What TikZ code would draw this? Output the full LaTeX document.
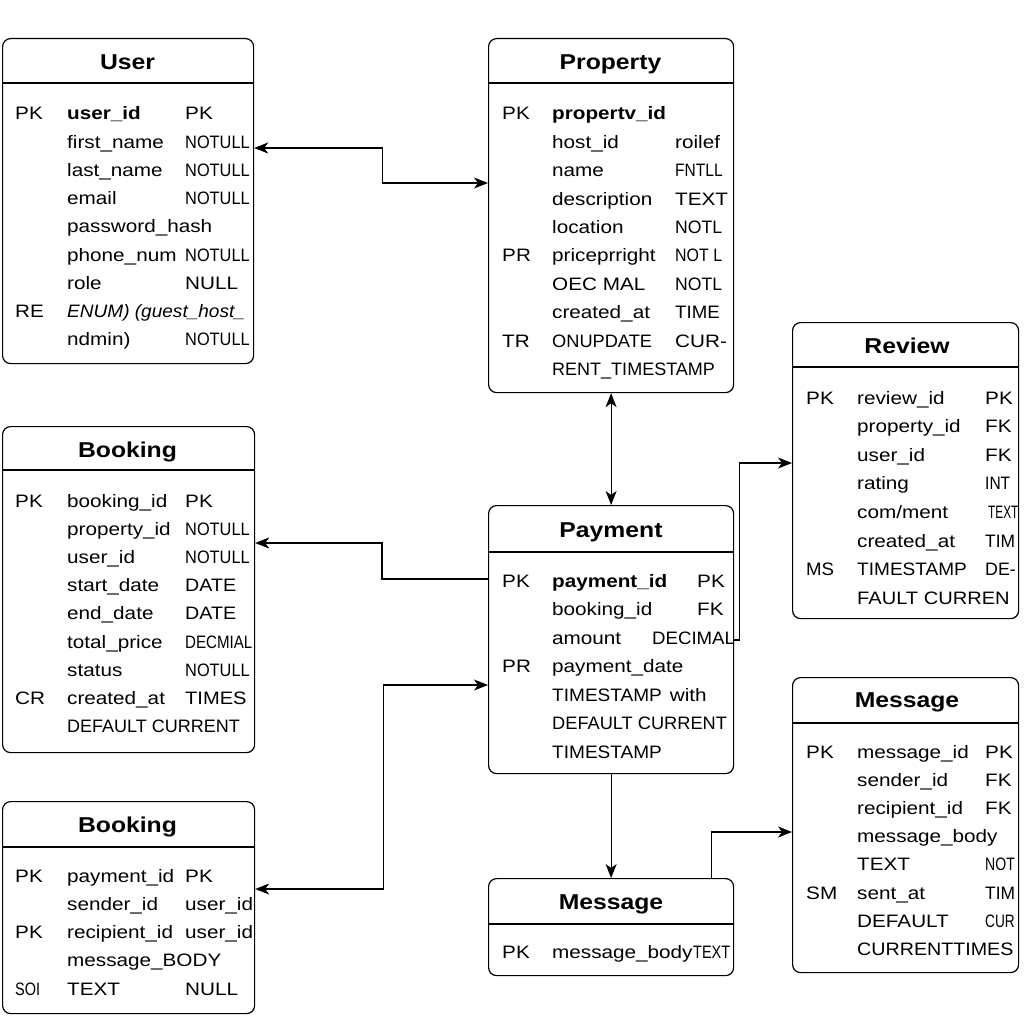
\documentclass[tikz,border=0pt]{standalone}
\usepackage{fontspec}
\setmainfont{Liberation Sans}[FakeStretch=1.15]
\usepackage{graphicx}
\usetikzlibrary{arrows.meta,calc}
\newcommand\sq[2]{\scalebox{#1}[1]{#2}}
\tikzset{
  tbox/.style={draw, line width=1.2pt, rounded corners=8pt, rectangle, inner sep=0pt, anchor=north west},
  ttl/.style={font=\fontsize{21.5}{24}\selectfont\bfseries, anchor=base, inner sep=0pt},
  txt/.style={font=\fontsize{18}{20}\selectfont, anchor=base west, inner sep=0pt},
  dv/.style={line width=1.2pt},
  tip/.tip={Stealth[length=14pt,width=11pt,inset=4pt]},
  conn/.style={line width=1.1pt, -tip},
  conn2/.style={line width=1.1pt, tip-tip},
}
\newcommand\rows[7]{%
  \foreach[count=\i] \k/\n/\t in {#7} {
    \node[txt] (#1k\i) at (#2, {#5+#6*(\i-1)}) {\k};
    \node[txt] (#1n\i) at (#3, {#5+#6*(\i-1)}) {\n};
    \node[txt] (#1t\i) at (#4, {#5+#6*(\i-1)}) {\t};
  }}
\begin{document}
\begin{tikzpicture}[x=1pt,y=-1pt]
\useasboundingbox[fill=white] (0,0) rectangle (1024,1024);

% ---------- boxes ----------
\node[tbox, minimum width=251pt, minimum height=325pt] (user) at (2,38) {};
\node[tbox, minimum width=245pt, minimum height=354pt] (prop) at (488,38) {};
\node[tbox, minimum width=226pt, minimum height=296pt] (rev) at (792,322) {};
\node[tbox, minimum width=252pt, minimum height=326pt] (book1) at (2,426) {};
\node[tbox, minimum width=245pt, minimum height=268pt] (pay) at (488,505) {};
\node[tbox, minimum width=252pt, minimum height=212pt] (book2) at (2,801) {};
\node[tbox, minimum width=245pt, minimum height=97pt] (msg) at (488,878) {};
\node[tbox, minimum width=226pt, minimum height=295pt] (msgr) at (792,677) {};

% ---------- dividers ----------
\draw[dv] ([yshift=-45pt]user.north west) -- ([yshift=-45pt]user.north east);
\draw[dv] ([yshift=-45pt]prop.north west) -- ([yshift=-45pt]prop.north east);
\draw[dv] ([yshift=-45pt]rev.north west) -- ([yshift=-45pt]rev.north east);
\draw[dv] ([yshift=-44pt]book1.north west) -- ([yshift=-44pt]book1.north east);
\draw[dv] ([yshift=-47pt]pay.north west) -- ([yshift=-47pt]pay.north east);
\draw[dv] ([yshift=-46pt]book2.north west) -- ([yshift=-46pt]book2.north east);
\draw[dv] ([yshift=-46pt]msg.north west) -- ([yshift=-46pt]msg.north east);
\draw[dv] ([yshift=-46pt]msgr.north west) -- ([yshift=-46pt]msgr.north east);

% ---------- titles ----------
\node[ttl] (user-title) at (127.5,70) {User};
\node[ttl] (prop-title) at (610.5,70) {Property};
\node[ttl] (rev-title) at (907,353) {Review};
\node[ttl] (book1-title) at (127.5,457) {Booking};
\node[ttl] (pay-title) at (611,537) {Payment};
\node[ttl] (book2-title) at (127.5,832) {Booking};
\node[ttl] (msg-title) at (611,909) {Message};
\node[ttl] (msgr-title) at (907,707) {Message};

% ---------- User ----------
\rows{u}{15}{67}{185}{120}{28.2}{
  PK/{\bfseries user\_id}/PK,
  /first\_name/\sq{.79}{NOTULL},
  /last\_name/\sq{.79}{NOTULL},
  /email/\sq{.79}{NOTULL},
  /password\_hash/,
  /phone\_num/\sq{.79}{NOTULL},
  /role/NULL,
  RE/{\itshape\sq{.92}{ENUM) (guest\_host\_}}/,
  /ndmin)/\sq{.79}{NOTULL}}

% ---------- Property ----------
\rows{p}{502}{552}{675}{120}{28.4}{
  PK/{\bfseries propertv\_id}/,
  /host\_id/roilef,
  /name/\sq{.75}{FNTLL},
  /description/TEXT,
  /location/\sq{.85}{NOTL},
  PR/priceprright/\sq{.77}{NOT L},
  /OEC MAL/\sq{.85}{NOTL},
  /created\_at/\sq{.9}{TIME},
  TR/\sq{.88}{ONUPDATE}/CUR-,
  /\sq{.87}{RENT\_TIMESTAMP}/}

% ---------- Review ----------
\rows{r}{806}{857}{985}{404}{28.6}{
  PK/review\_id/PK,
  /property\_id/FK,
  /user\_id/FK,
  /rating/\sq{.75}{INT},
  /{com/ment}/\hspace{3pt}\sq{.57}{TEXT},
  /created\_at/\sq{.84}{TIM},
  \sq{.9}{MS}/\sq{.92}{TIMESTAMP}/\sq{.86}{DE-},
  /\sq{.97}{FAULT CURREN}/}

% ---------- Booking (upper) ----------
\rows{b}{15}{67}{185}{507}{28.2}{
  PK/booking\_id/PK,
  /property\_id/\sq{.79}{NOTULL},
  /user\_id/\sq{.79}{NOTULL},
  /start\_date/\sq{.95}{DATE},
  /end\_date/\sq{.95}{DATE},
  /total\_price/\sq{.73}{DECMIAL},
  /status/\sq{.79}{NOTULL},
  CR/created\_at/\sq{.97}{TIMES},
  /\sq{.87}{DEFAULT CURRENT}/}

% ---------- Payment ----------
\rows{y}{502}{552}{652}{587}{28.5}{
  PK/{\bfseries payment\_id}/\hspace{45pt}PK,
  /booking\_id/\hspace{45pt}FK,
  /amount/\sq{.9}{DECIMAL},
  PR/payment\_date/,
  /\sq{.92}{TIMESTAMP}\hspace{8pt}with/,
  /\sq{.88}{DEFAULT CURRENT}/,
  /\sq{.92}{TIMESTAMP}/}

% ---------- Booking (lower) ----------
\rows{c}{15}{67}{185}{882}{28.3}{
  PK/payment\_id/PK,
  /sender\_id/user\_id,
  PK/recipient\_id/user\_id,
  /message\_BODY/,
  \sq{.7}{SOI}/TEXT/NULL}

% ---------- Message (small) ----------
\node[txt] (m-k1) at (502,958) {PK};
\node[txt] (m-n1) at (552,958) {message\_body};
\node[txt] (m-t1) at (693,958) {\sq{.7}{TEXT}};

% ---------- Message (right) ----------
\rows{s}{806}{857}{985}{758}{28.2}{
  PK/message\_id/PK,
  /sender\_id/FK,
  /recipient\_id/FK,
  /message\_body/,
  /TEXT/\sq{.68}{NOT},
  SM/sent\_at/\sq{.84}{TIM},
  /DEFAULT/\sq{.66}{CUR},
  /\sq{.95}{CURRENTTIMES}/}

% ---------- connectors ----------
\draw[conn2] ([yshift=-110pt]user.north east) -- ++(128,0) |- ([yshift=-145pt]prop.north west);
\draw[conn2] (prop.south) -- (pay.north);
\draw[conn] ([yshift=-74pt]pay.north west) -- ++(-106,0) |- ([yshift=-117pt]book1.north east);
\draw[conn2] ([yshift=-88pt]book2.north east) -- ++(128,0) |- ([yshift=-180pt]pay.north west);
\draw[conn] ([yshift=-135pt]pay.north east) -- ++(5,0) |- ([yshift=-141pt]rev.north west);
\draw[conn] (pay.south) -- (msg.north);
\draw[conn] ([xshift=-23pt]msg.north east) |- ([yshift=-155pt]msgr.north west);
\end{tikzpicture}
\end{document}
